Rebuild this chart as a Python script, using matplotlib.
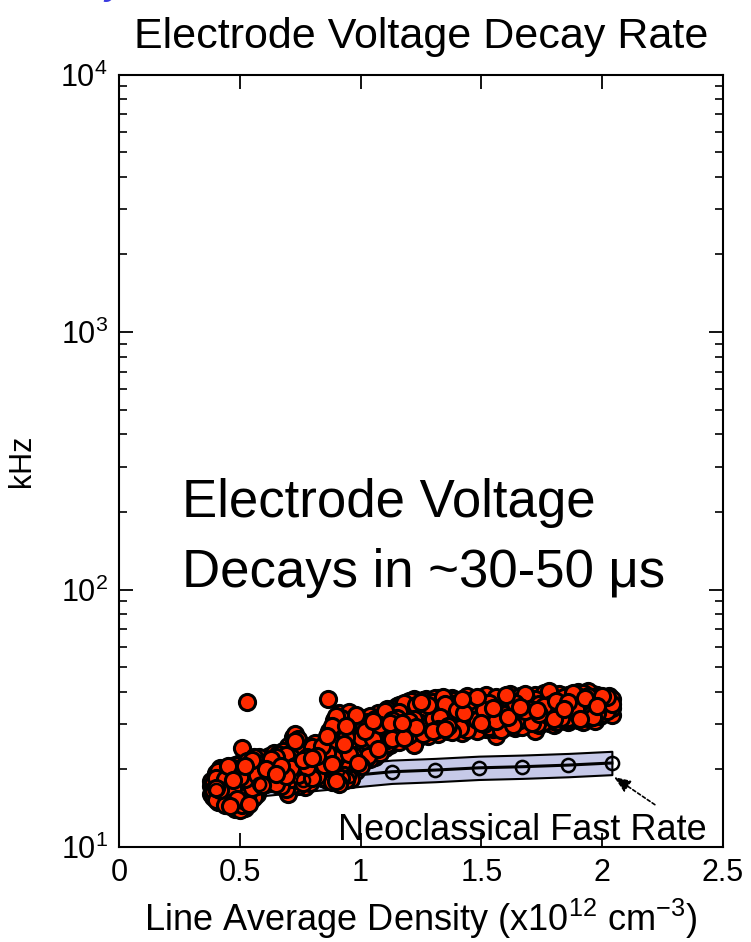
import numpy as np
import matplotlib
matplotlib.use("Agg")
import matplotlib.pyplot as plt
from matplotlib.ticker import FixedLocator, FuncFormatter, LogLocator, NullFormatter

# ---------------- data ----------------
# measured decay-rate cloud: (line average density, list of rates in kHz)
cloud_columns = [
    (0.38, [17.2, 16.0, 18.0]),
    (0.39, [15.6, 17.8, 16.6]),
    (0.40, [18.6, 15.2, 17.0, 19.3]),
    (0.41, [16.3, 18.1, 15.0, 19.8]),
    (0.42, [17.5, 14.9, 16.7, 18.9, 20.2]),
    (0.43, [15.8, 19.4, 17.1, 16.2]),
    (0.44, [18.4, 14.6, 20.0, 16.9, 15.5]),
    (0.45, [17.7, 19.0, 15.2, 16.4, 20.6]),
    (0.46, [14.4, 18.8, 16.0, 17.4, 19.7]),
    (0.47, [15.7, 20.3, 17.0, 18.2, 14.9]),
    (0.48, [14.1, 16.6, 19.1, 17.8, 20.8]),
    (0.49, [18.5, 15.3, 16.1, 19.9, 14.6]),
    (0.50, [13.9, 17.3, 20.1, 15.8, 18.7, 21.2]),
    (0.51, [24.3, 16.4, 19.3, 14.5, 17.9]),
    (0.52, [15.1, 18.4, 20.7, 16.8, 14.2]),
    (0.53, [36.6, 17.6, 19.8, 15.6, 21.5]),
    (0.54, [14.7, 18.9, 16.2, 20.4, 17.4]),
    (0.55, [15.3, 19.5, 17.0, 21.8, 16.0]),
    (0.56, [18.0, 20.9, 16.6, 22.3, 15.6]),
    (0.57, [17.2, 19.1, 21.2, 16.1]),
    (0.58, [20.0, 16.9, 22.4, 18.5]),
    (0.59, [18.1, 21.0, 17.4, 19.6]),
    (0.60, [19.2, 22.0, 17.9, 20.6]),
    (0.61, [18.6, 21.4, 20.0, 17.5]),
    (0.62, [22.6, 19.4, 18.0, 20.9]),
    (0.63, [17.8, 20.3, 21.9, 19.0]),
    (0.64, [19.7, 23.1, 18.3, 21.2]),
    (0.65, [20.8, 17.6, 22.4, 19.2]),
    (0.66, [18.7, 21.6, 20.1, 23.0]),
    (0.67, [22.1, 17.3, 19.5, 20.7]),
    (0.68, [19.9, 23.6, 18.1, 21.3]),
    (0.69, [16.8, 20.4, 22.8, 18.9]),
    (0.70, [24.6, 16.1, 19.3, 21.7, 17.6]),
    (0.71, [18.4, 22.3, 20.2, 25.2, 16.9]),
    (0.72, [26.8, 19.7, 17.4, 23.5, 21.1]),
    (0.73, [20.6, 25.8, 18.0, 22.7, 27.4]),
    (0.74, [17.2, 24.3, 21.5, 19.1, 26.2]),
    (0.75, [22.9, 18.6, 25.0, 20.3]),
    (0.76, [19.8, 23.9, 17.7, 21.7, 24.9]),
    (0.77, [21.0, 17.1, 23.2, 19.4]),
    (0.78, [18.3, 22.4, 20.5, 24.0]),
    (0.79, [23.4, 19.0, 21.4, 17.8]),
    (0.80, [20.1, 24.4, 18.6, 22.2]),
    (0.81, [21.8, 19.3, 23.7, 25.4]),
    (0.82, [24.2, 20.7, 18.9, 22.6]),
    (0.83, [19.6, 23.0, 21.3]),
    (0.84, [22.0, 18.5, 20.4, 24.6]),
    (0.85, [20.9, 23.3, 19.2]),
    (0.865, [37.4]),
    (0.86, [18.2, 21.6, 25.4, 23.1, 27.0]),
    (0.87, [24.4, 19.8, 28.2, 22.5, 20.6]),
    (0.88, [17.9, 26.1, 29.5, 21.0, 23.8]),
    (0.89, [27.6, 19.1, 24.9, 31.0, 22.2]),
    (0.90, [32.2, 18.0, 25.8, 21.7, 29.0, 23.6]),
    (0.91, [20.3, 27.3, 30.4, 17.6, 24.1, 33.0]),
    (0.92, [22.9, 28.6, 19.4, 26.0, 31.6, 18.5]),
    (0.93, [25.2, 30.9, 21.3, 27.9, 23.4, 19.0]),
    (0.94, [18.2, 26.7, 29.6, 22.4, 31.9, 24.5]),
    (0.95, [28.3, 20.5, 33.4, 25.5, 23.0]),
    (0.96, [19.5, 30.1, 24.0, 27.1, 21.9, 18.3]),
    (0.97, [26.4, 22.7, 31.3, 20.1, 28.8]),
    (0.98, [23.5, 29.4, 19.8, 25.9, 32.5]),
    (0.99, [21.1, 27.7, 24.7, 30.6, 22.3]),
    (1.00, [28.9, 23.0, 26.6, 20.6, 31.2]),
    (1.01, [25.1, 30.0, 22.2, 27.4, 29.1]),
    (1.02, [21.7, 28.1, 24.2, 31.7, 26.0]),
    (1.03, [27.0, 23.3, 30.5, 25.6, 22.6]),
    (1.04, [29.7, 24.9, 22.0, 28.4, 32.3]),
    (1.05, [23.8, 27.9, 26.2, 30.8, 25.0]),
    (1.06, [22.3, 29.2, 25.7, 31.5, 27.2]),
    (1.07, [26.8, 24.1, 30.2, 28.0, 33.1]),
    (1.08, [23.2, 31.1, 27.6, 25.3, 29.8]),
    (1.09, [28.7, 24.6, 32.4, 26.5, 30.6]),
    (1.10, [25.9, 33.6, 29.4, 24.3, 27.8]),
    (1.11, [31.8, 26.9, 28.9, 25.2, 34.2]),
    (1.12, [27.3, 30.3, 24.8, 32.9, 29.0]),
    (1.13, [25.6, 33.8, 28.4, 31.2, 26.3]),
    (1.14, [30.0, 27.1, 34.8, 29.3, 32.1]),
    (1.15, [26.1, 31.6, 28.6, 35.2, 33.3]),
    (1.16, [35.6, 27.8, 31.0, 29.2, 33.4, 25.5]),
    (1.17, [30.4, 34.9, 27.3, 32.3]),
    (1.18, [28.9, 32.6, 36.2, 30.3, 26.6, 34.1]),
    (1.19, [35.3, 29.7, 31.9, 26.9]),
    (1.20, [33.0, 27.2, 30.8, 35.1, 29.5, 37.0]),
    (1.21, [28.5, 33.8, 36.8, 30.9]),
    (1.22, [31.4, 37.5, 28.1, 34.6, 32.2, 25.0]),
    (1.23, [32.9, 27.9, 35.5, 29.3]),
    (1.24, [26.8, 30.1, 33.7, 29.0, 36.0, 31.9]),
    (1.25, [30.4, 36.5, 33.3, 28.0]),
    (1.26, [34.9, 28.6, 31.1, 37.2, 30.0, 27.5]),
    (1.27, [34.0, 29.2, 31.6, 37.4]),
    (1.28, [29.8, 33.2, 27.1, 35.6, 32.0, 30.7]),
    (1.29, [27.8, 32.5, 35.2, 30.1]),
    (1.30, [36.7, 31.3, 28.3, 33.9, 30.2, 34.8]),
    (1.31, [33.5, 37.8, 29.6, 31.8]),
    (1.32, [28.8, 35.0, 32.7, 37.9, 30.5, 27.4]),
    (1.33, [30.0, 34.6, 32.0, 36.2]),
    (1.34, [33.1, 29.3, 36.4, 31.7, 34.3, 38.3]),
    (1.35, [35.9, 28.6, 33.0, 31.2]),
    (1.36, [30.9, 37.1, 28.2, 32.8, 35.4, 29.6]),
    (1.37, [32.3, 36.6, 29.9, 34.8]),
    (1.38, [35.8, 31.5, 33.6, 27.9, 38.0, 30.3]),
    (1.39, [29.4, 33.9, 37.3, 31.1]),
    (1.40, [29.1, 34.0, 36.9, 32.4, 30.6, 33.3]),
    (1.41, [34.4, 30.7, 36.0, 28.9]),
    (1.42, [37.6, 27.7, 31.2, 35.2, 33.8, 29.8]),
    (1.43, [31.5, 37.0, 33.2, 29.4]),
    (1.44, [32.1, 36.3, 30.0, 34.5, 28.5, 38.6]),
    (1.45, [36.9, 32.6, 30.3, 34.1]),
    (1.46, [34.7, 29.4, 37.4, 31.9, 35.9, 30.8]),
    (1.47, [30.9, 35.1, 33.4, 28.8]),
    (1.48, [28.3, 33.5, 31.0, 38.2, 32.8, 36.1]),
    (1.49, [33.8, 29.6, 37.1, 31.7]),
    (1.50, [36.6, 30.4, 34.2, 29.0, 32.3, 37.7]),
    (1.51, [35.9, 32.0, 30.0, 34.0]),
    (1.52, [31.6, 35.3, 28.7, 33.0, 38.8, 30.1]),
    (1.53, [29.2, 36.4, 32.9, 38.0]),
    (1.54, [33.9, 29.5, 37.0, 31.4, 35.7, 34.4]),
    (1.55, [34.7, 31.0, 28.6, 36.3]),
    (1.56, [29.9, 36.8, 32.5, 38.4, 30.9, 27.0]),
    (1.57, [31.3, 35.8, 33.7, 29.0]),
    (1.58, [35.0, 31.8, 28.4, 34.1, 37.3, 33.2]),
    (1.59, [37.1, 30.6, 32.8, 35.4]),
    (1.60, [32.9, 38.9, 30.2, 36.0, 29.3, 34.8]),
    (1.61, [30.0, 34.3, 37.6, 32.0]),
    (1.62, [37.8, 31.1, 35.5, 33.6, 30.5, 39.2]),
    (1.63, [33.1, 29.8, 35.9, 31.6]),
    (1.64, [30.7, 34.6, 29.1, 37.5, 32.2, 36.4]),
    (1.65, [35.4, 32.8, 30.2, 38.0]),
    (1.66, [36.2, 32.6, 38.6, 31.2, 34.9, 29.7]),
    (1.67, [31.9, 36.6, 34.0, 29.3]),
    (1.68, [31.5, 39.4, 33.8, 30.0, 37.0, 35.3]),
    (1.69, [37.7, 30.9, 33.4, 35.8]),
    (1.70, [34.2, 29.4, 36.7, 32.4, 38.1, 31.0]),
    (1.71, [32.8, 36.0, 30.2, 34.6]),
    (1.72, [28.1, 35.8, 33.1, 39.0, 30.8, 37.4]),
    (1.73, [30.0, 34.0, 38.3, 32.2]),
    (1.74, [37.1, 31.7, 34.5, 29.9, 36.0, 32.9]),
    (1.75, [35.7, 31.4, 33.6, 37.4]),
    (1.76, [33.4, 39.7, 30.6, 35.4, 38.0, 31.9]),
    (1.77, [32.6, 36.8, 34.4, 30.8]),
    (1.78, [40.4, 32.3, 36.5, 34.0, 30.4, 37.8]),
    (1.79, [38.6, 33.5, 31.7, 35.9]),
    (1.80, [31.3, 35.1, 38.7, 33.0, 36.9, 29.8]),
    (1.81, [34.0, 30.5, 37.0, 32.9]),
    (1.82, [36.3, 33.7, 30.9, 39.2, 34.8, 32.0]),
    (1.83, [31.7, 35.8, 33.3, 38.9]),
    (1.84, [32.5, 37.6, 35.7, 31.1, 38.4, 34.3]),
    (1.85, [36.9, 32.1, 34.7, 30.8]),
    (1.86, [38.9, 34.0, 31.8, 36.6, 33.2, 30.5]),
    (1.87, [33.0, 38.0, 35.2, 31.9]),
    (1.88, [33.6, 39.6, 35.9, 31.4, 37.3, 32.7]),
    (1.89, [35.4, 32.4, 39.0, 34.2]),
    (1.90, [35.2, 31.0, 38.1, 33.9, 40.0, 36.8]),
    (1.91, [33.2, 36.4, 31.5, 38.6]),
    (1.92, [30.7, 37.0, 34.6, 39.8, 32.4, 35.6]),
    (1.93, [37.9, 34.0, 32.5, 36.5]),
    (1.94, [40.4, 33.3, 36.2, 31.6, 38.5, 34.9]),
    (1.95, [31.9, 35.6, 38.9, 33.7]),
    (1.96, [34.1, 38.3, 32.1, 36.9, 39.3]),
    (1.97, [36.2, 33.1, 30.9, 38.0]),
    (1.98, [37.7, 33.0, 35.4, 39.0, 31.9]),
    (1.99, [34.6, 37.5, 32.4]),
    (2.00, [32.8, 36.4, 38.7, 34.5, 37.2]),
    (2.01, [33.4, 37.0, 35.2]),
    (2.02, [35.9, 33.6, 38.1, 36.8]),
    (2.03, [36.5, 34.0, 38.7]),
    (2.04, [32.5, 37.6, 34.8, 36.0]),
]
cloud_x = [x for x, ys in cloud_columns for _ in ys]
cloud_y = [y for _, ys in cloud_columns for y in ys]

# neoclassical fast rate curve (circles) and its band factor
neo_x = [0.40, 0.58, 0.76, 0.95, 1.13, 1.31, 1.49, 1.67, 1.86, 2.04]
neo_y = [16.7, 17.5, 18.2, 18.9, 19.6, 19.9, 20.3, 20.5, 20.8, 21.2]
band_factor = 1.11

x_ticks = [0, 0.5, 1, 1.5, 2, 2.5]
x_ticklabels = ["0", "0.5", "1", "1.5", "2", "2.5"]
y_decades = [10, 100, 1000, 10000]

# ---------------- figure ----------------
plt.rcParams['font.family'] = ['Liberation Sans', 'DejaVu Sans']
plt.rcParams['mathtext.fontset'] = 'custom'
plt.rcParams['mathtext.rm'] = 'Liberation Sans'
plt.rcParams['mathtext.it'] = 'Liberation Sans:italic'

fig = plt.figure(figsize=(7.51, 9.42), dpi=100)
ax = fig.add_axes([119/751, 95/942, 604/751, 772.5/942])

ax.set_yscale('log')
ax.set_xlim(0, 2.5)
ax.set_ylim(10, 10000)

# band
nx = np.array(neo_x)
ny = np.array(neo_y)
ax.fill_between(nx, ny / band_factor, ny * band_factor, facecolor='#c6c9e8',
                edgecolor='black', linewidth=1.5, zorder=2)
ax.plot(nx, ny, color='black', lw=2.2, zorder=3)

# scatter cloud, drawn in an interleaved (acquisition-like) order
n_pts = len(cloud_x)
draw_order = sorted(range(n_pts), key=lambda i: (i * 97) % n_pts)
ax.scatter([cloud_x[i] for i in draw_order], [cloud_y[i] for i in draw_order],
           s=135, facecolor='#ff2a00', edgecolor='black',
           linewidths=2.2, zorder=4)

# neoclassical circles on top
ax.plot(nx, ny, linestyle='none', marker='o', markersize=9.5,
        markerfacecolor='none', markeredgecolor='black', markeredgewidth=1.8,
        zorder=5)

# ticks
ax.xaxis.set_major_locator(FixedLocator(x_ticks))
ax.set_xticklabels(x_ticklabels)
ax.yaxis.set_major_locator(FixedLocator(y_decades))
ax.yaxis.set_major_formatter(FuncFormatter(
    lambda v, p: r'$\mathregular{10^{%d}}$' % int(round(np.log10(v)))))
ax.yaxis.set_minor_locator(LogLocator(base=10, subs=np.arange(2, 10)))
ax.yaxis.set_minor_formatter(NullFormatter())
ax.tick_params(axis='both', which='major', direction='in', length=10, width=1.3,
               top=True, right=True, labelsize=22, pad=8, colors='black')
ax.tick_params(axis='y', which='minor', direction='in', length=6, width=1.2,
               left=True, right=True)
for sp in ax.spines.values():
    sp.set_linewidth(1.5)

ax.set_title('Electrode Voltage Decay Rate', fontsize=31, pad=19)
ax.set_xlabel(r'Line Average Density (x10$^{12}$ cm$^{-3}$)', fontsize=26, labelpad=6)
ax.set_ylabel('kHz', fontsize=22)
ax.yaxis.set_label_coords(-0.136, 0.5)

# big annotation
ax.text(0.261, 192, 'Electrode Voltage', fontsize=38, va='baseline', ha='left')
ax.text(0.261, 102.7, 'Decays in ~30-50 \u03bcs', fontsize=38, va='baseline', ha='left')

# neoclassical label and arrow
ax.text(0.906, 10.64, 'Neoclassical Fast Rate', fontsize=26, va='baseline', ha='left')
ax.annotate('', xy=(2.049, 18.7), xytext=(2.218, 14.6),
            arrowprops=dict(arrowstyle='-|>,head_length=1.0,head_width=0.4',
                            color='black', lw=1.2, linestyle=(0, (2, 1.5)),
                            shrinkA=0, shrinkB=0))

# cut-off blue fragment at the top-left of the slide
fig.text(0.14, 1.0075, 'y', color='#3a3ae0', fontsize=30, va='baseline',
         ha='left', style='italic')

fig.savefig('out.png', dpi=100)
